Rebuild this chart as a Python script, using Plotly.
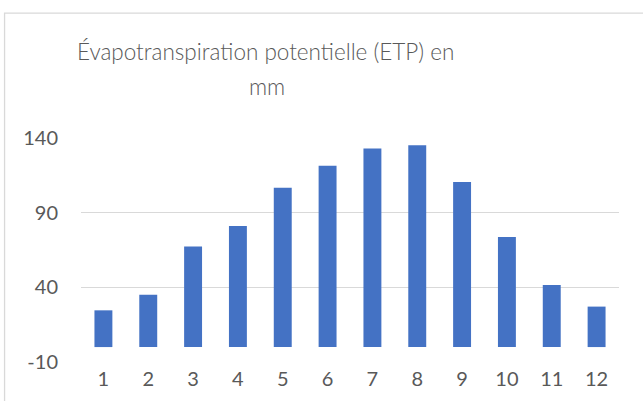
import plotly.graph_objects as go

months = [str(i) for i in range(1, 13)]
etp = [24.6, 35.1, 67.4, 81.1, 106.7, 121.5, 132.9, 135.1, 110.5, 73.7, 41.6, 27.1]
y_ticks = [-10, 40, 90, 140]
y_tick_labels = ["-10", "40", "90", "140"]
title_line1 = "Évapotranspiration potentielle (ETP) en"
title_line2 = "mm"

W, H = 643, 401
L, R, T, B = 81, 23.6, 138.3, 38.7
pw, ph = W - L - R, H - T - B

def px_x(px):
    return (px - L) / pw

def px_y(py):
    return (H - B - py) / ph

FONT = "Lato"
GRAY = "#595959"

fig = go.Figure(go.Bar(
    x=months, y=etp, marker=dict(color="#4472c4", line=dict(width=0)),
    width=0.4, hoverinfo="skip",
))

fig.update_layout(
    width=W, height=H,
    margin=dict(l=L, r=R, t=T, b=B, pad=0),
    paper_bgcolor="white", plot_bgcolor="white",
    showlegend=False,
    font=dict(family=FONT, color=GRAY),
    xaxis=dict(type="category", showgrid=False, showline=False, zeroline=False,
               ticks="", tickfont=dict(size=20, family=FONT, color=GRAY),
               ticklabelstandoff=3),
    yaxis=dict(range=[-10, 140], tickvals=y_ticks, ticktext=y_tick_labels, showgrid=True,
               gridcolor="#d9d9d9", gridwidth=1.3, zeroline=False, showline=False,
               ticks="", tickfont=dict(size=20, family=FONT, color=GRAY),
               ticklabelstandoff=22),
    annotations=[
        dict(text=title_line1, xref="paper", yref="paper", x=px_x(266), y=px_y(52),
             xanchor="center", yanchor="middle", showarrow=False,
             font=dict(size=22.5, family=FONT, color=GRAY, weight=300)),
        dict(text=title_line2, xref="paper", yref="paper", x=px_x(267), y=px_y(86.5),
             xanchor="center", yanchor="middle", showarrow=False,
             font=dict(size=22.5, family=FONT, color=GRAY, weight=300)),
    ],
    shapes=[
        dict(type="rect", xref="paper", yref="paper",
             x0=px_x(4.5), x1=px_x(700), y0=px_y(13.5), y1=px_y(450),
             line=dict(color="#d9d9d9", width=1.3), fillcolor="rgba(0,0,0,0)", layer="below"),
    ],
)

fig.write_html("out.html",
               config=dict(displayModeBar=False),
               post_script="document.body.style.margin='0';document.body.style.padding='0';")
